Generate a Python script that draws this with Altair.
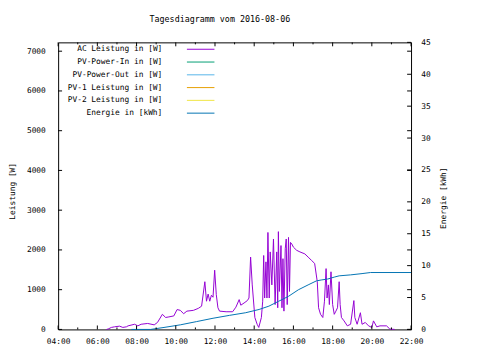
import altair as alt
import pandas as pd

# ---------------- data ----------------
ac_times = ["06:28", "06:33", "06:43", "06:53", "07:08", "07:18", "07:29", "07:34", "07:54", "08:04",
            "08:14", "08:34", "08:54", "09:04", "09:19", "09:29", "09:39", "09:54", "10:04", "10:14",
            "10:24", "10:34", "10:54", "11:09", "11:19", "11:29", "11:34", "11:39", "11:44", "11:49",
            "11:54", "11:59", "12:04", "12:09", "12:14", "12:34", "12:54", "13:04", "13:14", "13:19",
            "13:29", "13:39", "13:44", "13:49", "13:54", "14:02", "14:09", "14:14", "14:22", "14:26",
            "14:29", "14:32", "14:36", "14:39", "14:42", "14:46", "14:49", "14:54", "14:59", "15:04",
            "15:09", "15:12", "15:14", "15:17", "15:22", "15:25", "15:28", "15:31", "15:35", "15:38",
            "15:41", "15:45", "15:48", "15:51", "15:55", "16:00", "16:05", "16:10", "16:20", "16:35",
            "16:45", "16:55", "17:05", "17:13", "17:17", "17:23", "17:30", "17:35", "17:40", "17:43",
            "17:47", "17:50", "17:55", "18:00", "18:05", "18:10", "18:15", "18:20", "18:23", "18:27",
            "18:35", "18:45", "18:55", "19:05", "19:08", "19:15", "19:25", "19:30", "19:40", "19:50",
            "20:00", "20:05", "20:15", "20:25", "20:45", "20:55", "21:10"]
ac_watts = [0, 10, 50, 66, 82, 50, 66, 90, 130, 90,
            130, 150, 115, 175, 380, 300, 315, 340, 500, 480,
            395, 460, 480, 530, 585, 1200, 710, 890, 710, 860,
            810, 1490, 875, 545, 460, 445, 445, 560, 750, 610,
            665, 725, 790, 1820, 1120, 300, 130, 50, 300, 710,
            1860, 790, 1700, 790, 2440, 790, 1950, 1120, 2275, 625,
            1950, 545, 2460, 955, 2110, 545, 1780, 460, 2030, 2275,
            625, 2315, 955, 2190, 2150, 2070, 2030, 1990, 1950, 1900,
            1820, 1740, 1660, 1200, 545, 380, 300, 710, 1530, 790,
            1120, 625, 1450, 625, 380, 460, 545, 1200, 625, 300,
            215, 90, 130, 725, 300, 130, 420, 130, 175, 90,
            50, 215, 65, 90, 90, 10, 0]

en_times = ["07:44", "08:43", "09:24", "10:14", "11:04", "11:54", "12:44", "13:34", "14:15", "14:45",
            "15:15", "15:45", "16:15", "16:45", "17:10", "17:25", "17:45", "18:05", "18:20", "18:55",
            "19:30", "19:56", "22:00"]
en_kwh = [0, 0, 0.31, 0.72, 1.23, 1.75, 2.2, 2.62, 3.13, 3.65,
          4.42, 5.19, 6.21, 6.98, 7.6, 7.75, 7.9, 8.2, 8.4, 8.55,
          8.75, 8.92, 8.92]

series_names = ["AC Leistung in [W]", "PV-Power-In in [W]", "PV-Power-Out in [W]",
                "PV-1 Leistung in [W]", "PV-2 Leistung in [W]", "Energie in [kWh]"]
series_colors = ["#9400D3", "#009E73", "#56B4E9", "#E69F00", "#F0E442", "#0072B2"]

hour_labels = list(range(4, 23, 2))
hour_minor = list(range(5, 22, 2))
power_ticks = list(range(0, 7001, 1000))
energy_ticks = list(range(0, 46, 5))

title_text = "Tagesdiagramm vom 2016-08-06"


def to_hours(t):
    h, m = t.split(":")
    return int(h) + int(m) / 60.0


ac_df = pd.DataFrame({"h": [to_hours(t) for t in ac_times], "w": ac_watts})
en_df = pd.DataFrame({"h": [to_hours(t) for t in en_times], "e": en_kwh})
leg_df = pd.DataFrame({"name": series_names, "idx": list(range(len(series_names)))})
hmaj_df = pd.DataFrame({"h": hour_labels})
hmin_df = pd.DataFrame({"h": hour_minor})
pt_df = pd.DataFrame({"v": power_ticks})
et_df = pd.DataFrame({"v": energy_ticks})

W, H = 359, 292
FONT = "DejaVu Sans Mono"

xs = alt.Scale(domain=[4, 22], nice=False, zero=False)
ps = alt.Scale(domain=[0, 7222], nice=False)
es = alt.Scale(domain=[0, 45], nice=False)
ls = alt.Scale(domain=[0, 5], range=[7, 72])


def x_enc():
    return alt.X("h:Q", scale=xs,
                 axis=alt.Axis(values=hour_labels,
                               labelExpr="(datum.value < 10 ? '0' : '') + datum.value + ':00'",
                               ticks=False, domain=False, grid=False, labelPadding=8, title=None,
                               labelFlush=False, labelOverlap=False,
                               labelFont=FONT, labelFontSize=8, labelColor="black"))


ac = alt.Chart(ac_df).mark_line(color="#9400D3", strokeWidth=1).encode(
    x=x_enc(),
    y=alt.Y("w:Q", scale=ps,
            axis=alt.Axis(orient="left", values=power_ticks, format="d", ticks=False, domain=False,
                          grid=False, labelPadding=13, labelFont=FONT, labelFontSize=8,
                          labelColor="black", labelFlush=False,
                          title="Leistung [W]", titleX=-46, titleY=151, titleAngle=270,
                          titleAlign="center", titleBaseline="middle", titleFont=FONT,
                          titleFontSize=8, titleFontWeight="normal", titleColor="black")),
)

en = alt.Chart(en_df).mark_line(color="#0072B2", strokeWidth=1).encode(
    x=x_enc(),
    y=alt.Y("e:Q", scale=es,
            axis=alt.Axis(orient="right", values=energy_ticks, format="d", ticks=False, domain=False,
                          grid=False, labelPadding=10, labelFont=FONT, labelFontSize=8,
                          labelColor="black", labelFlush=False,
                          title="Energie [kWh]", titleX=33, titleY=158, titleAngle=270,
                          titleAlign="center", titleBaseline="middle", titleFont=FONT,
                          titleFontSize=8, titleFontWeight="normal", titleColor="black")),
)

tick_color = "black"
bot_major = alt.Chart(hmaj_df).mark_rule(color=tick_color, strokeWidth=1).encode(
    x=x_enc(), y=alt.value(H), y2=alt.value(H - 4))
bot_minor = alt.Chart(hmin_df).mark_rule(color=tick_color, strokeWidth=1).encode(
    x=x_enc(), y=alt.value(H), y2=alt.value(H - 2))
top_major = alt.Chart(hmaj_df).mark_rule(color=tick_color, strokeWidth=1).encode(
    x=x_enc(), y=alt.value(0), y2=alt.value(4))
top_minor = alt.Chart(hmin_df).mark_rule(color=tick_color, strokeWidth=1).encode(
    x=x_enc(), y=alt.value(0), y2=alt.value(2))
left_ticks = alt.Chart(pt_df).mark_rule(color=tick_color, strokeWidth=1).encode(
    y=alt.Y("v:Q", scale=ps, axis=None), x=alt.value(0), x2=alt.value(4))
right_pticks = alt.Chart(pt_df).mark_rule(color=tick_color, strokeWidth=1).encode(
    y=alt.Y("v:Q", scale=ps, axis=None), x=alt.value(W), x2=alt.value(W - 4))
right_eticks = alt.Chart(et_df).mark_rule(color=tick_color, strokeWidth=1).encode(
    y=alt.Y("v:Q", scale=es, axis=None), x=alt.value(W), x2=alt.value(W - 4))

leg_text = alt.Chart(leg_df).mark_text(align="right", baseline="middle", font=FONT, fontSize=8,
                                       color="black").encode(
    y=alt.Y("idx:Q", scale=ls, axis=None), x=alt.value(106), text="name:N")
leg_line = alt.Chart(leg_df).mark_rule(strokeWidth=1).encode(
    y=alt.Y("idx:Q", scale=ls, axis=None), x=alt.value(131), x2=alt.value(159),
    color=alt.Color("name:N", scale=alt.Scale(domain=series_names, range=series_colors), legend=None))

chart = alt.layer(
    ac, en, bot_major, bot_minor, top_major, top_minor, left_ticks, right_pticks, right_eticks,
    leg_text, leg_line
).resolve_scale(y="independent").properties(
    width=W, height=H,
    title=alt.TitleParams(title_text, font=FONT, fontSize=8.5, fontWeight="normal", anchor="middle",
                          dx=-15, offset=15, color="black"),
    padding={"left": 51, "top": 32, "right": 62, "bottom": 20},
    autosize=alt.AutoSizeParams(type="none"),
    background="white",
).configure_view(stroke="black", strokeWidth=1)

chart.save("out.html", embed_options={"renderer": "svg", "actions": False})
